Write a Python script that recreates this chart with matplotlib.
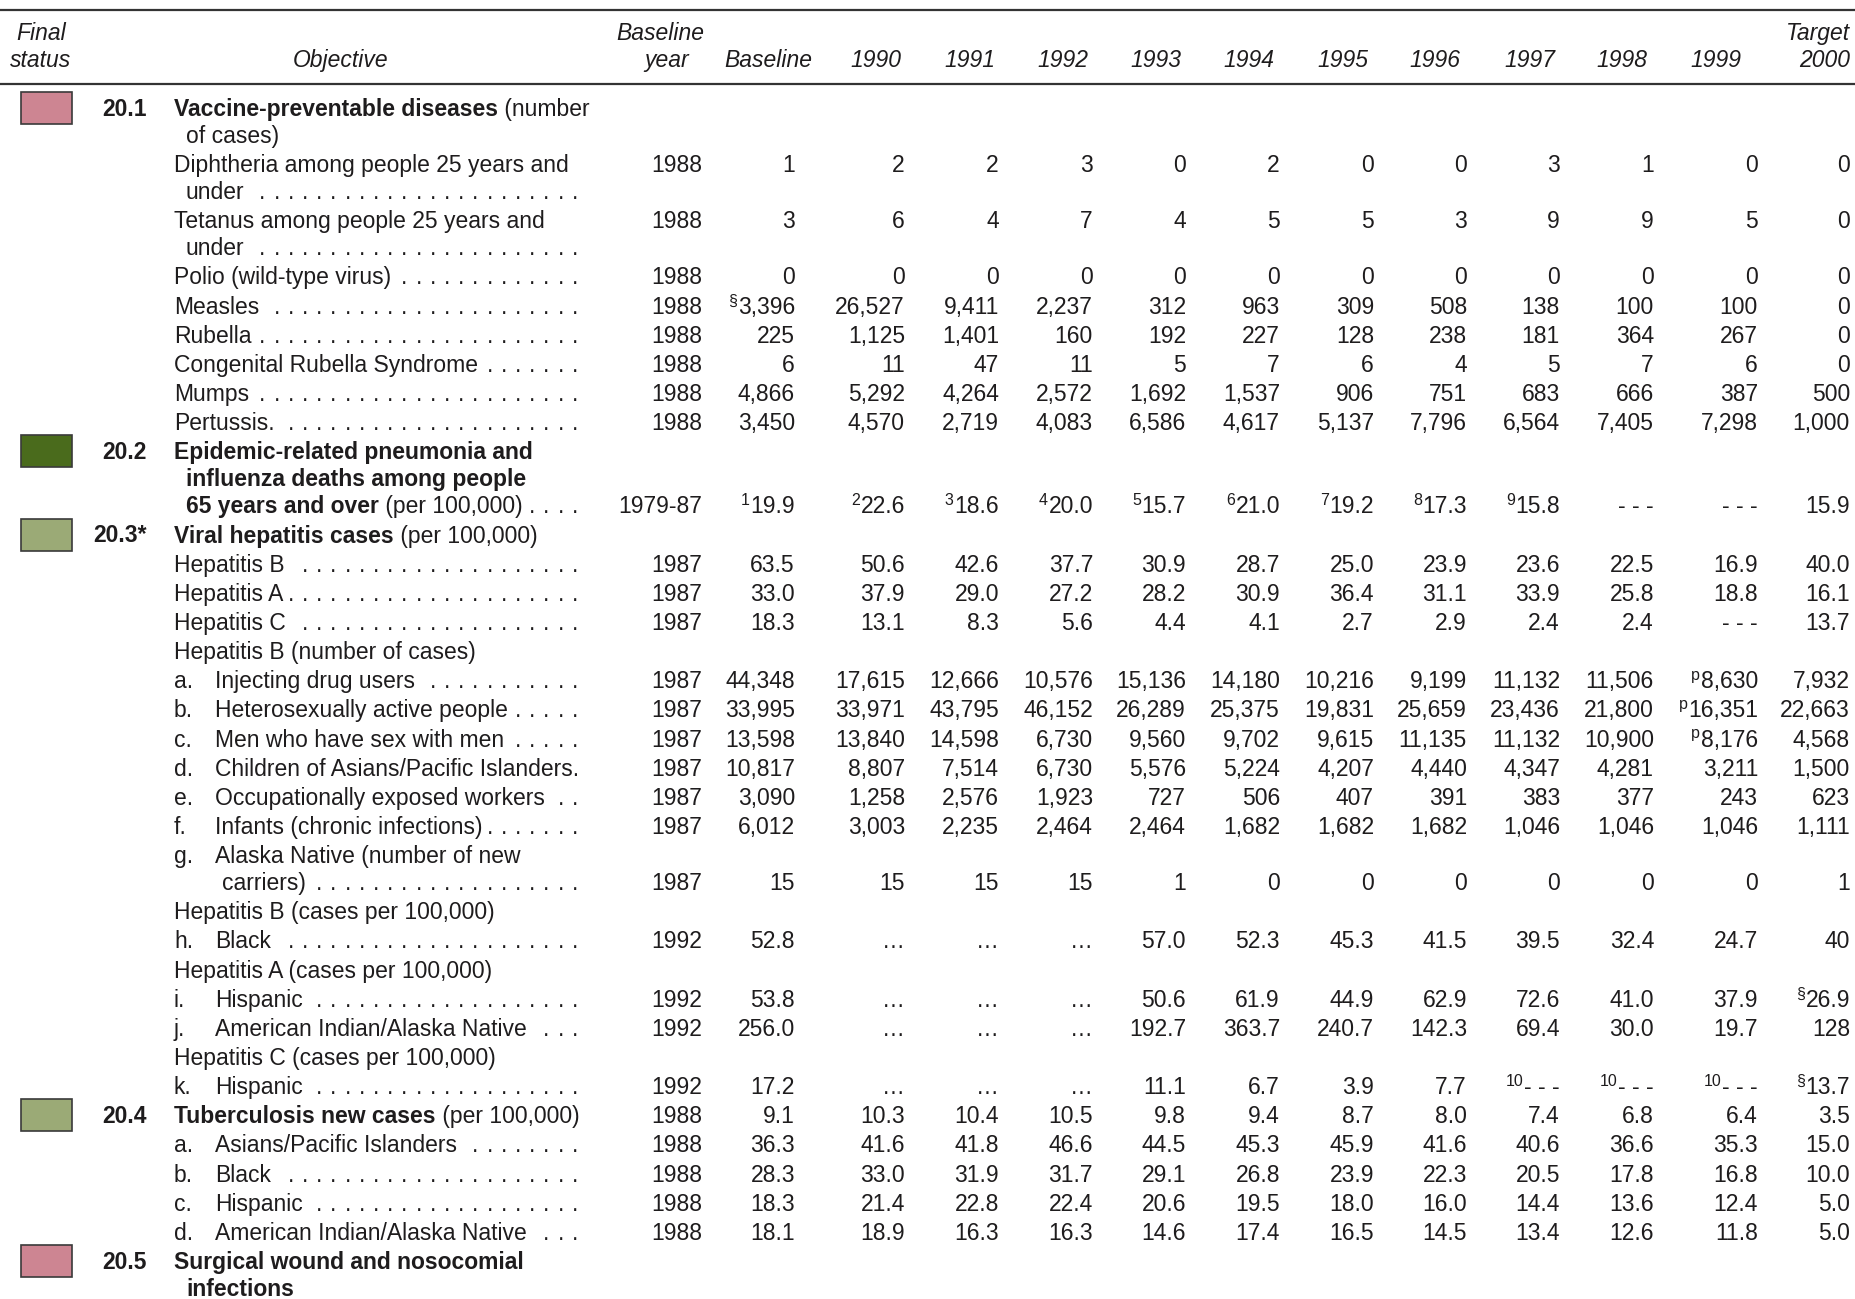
import matplotlib.pyplot as plt
from matplotlib.patches import Rectangle

plt.rcParams['font.family'] = ['Liberation Sans', 'DejaVu Sans']

# column headers
col_heads = ['Baseline', '1990', '1991', '1992', '1993', '1994', '1995',
             '1996', '1997', '1998', '1999', 'Target\n2000']

status_colors = {'not_met': '#CD8592', 'met': '#4A6B1C', 'progress': '#9BAA76'}

# values: baseline, 1990 ... 1999, target 2000   ("mark|value" = footnote mark)
diphtheria = ['1', '2', '2', '3', '0', '2', '0', '0', '3', '1', '0', '0']
tetanus = ['3', '6', '4', '7', '4', '5', '5', '3', '9', '9', '5', '0']
polio = ['0', '0', '0', '0', '0', '0', '0', '0', '0', '0', '0', '0']
measles = ['§|3,396', '26,527', '9,411', '2,237', '312', '963', '309', '508', '138', '100', '100', '0']
rubella = ['225', '1,125', '1,401', '160', '192', '227', '128', '238', '181', '364', '267', '0']
crs = ['6', '11', '47', '11', '5', '7', '6', '4', '5', '7', '6', '0']
mumps = ['4,866', '5,292', '4,264', '2,572', '1,692', '1,537', '906', '751', '683', '666', '387', '500']
pertussis = ['3,450', '4,570', '2,719', '4,083', '6,586', '4,617', '5,137', '7,796', '6,564', '7,405', '7,298', '1,000']
pneumonia = ['1|19.9', '2|22.6', '3|18.6', '4|20.0', '5|15.7', '6|21.0', '7|19.2', '8|17.3', '9|15.8', '- - -', '- - -', '15.9']
hep_b = ['63.5', '50.6', '42.6', '37.7', '30.9', '28.7', '25.0', '23.9', '23.6', '22.5', '16.9', '40.0']
hep_a = ['33.0', '37.9', '29.0', '27.2', '28.2', '30.9', '36.4', '31.1', '33.9', '25.8', '18.8', '16.1']
hep_c = ['18.3', '13.1', '8.3', '5.6', '4.4', '4.1', '2.7', '2.9', '2.4', '2.4', '- - -', '13.7']
hb_idu = ['44,348', '17,615', '12,666', '10,576', '15,136', '14,180', '10,216', '9,199', '11,132', '11,506', 'p|8,630', '7,932']
hb_hetero = ['33,995', '33,971', '43,795', '46,152', '26,289', '25,375', '19,831', '25,659', '23,436', '21,800', 'p|16,351', '22,663']
hb_msm = ['13,598', '13,840', '14,598', '6,730', '9,560', '9,702', '9,615', '11,135', '11,132', '10,900', 'p|8,176', '4,568']
hb_api_children = ['10,817', '8,807', '7,514', '6,730', '5,576', '5,224', '4,207', '4,440', '4,347', '4,281', '3,211', '1,500']
hb_occupational = ['3,090', '1,258', '2,576', '1,923', '727', '506', '407', '391', '383', '377', '243', '623']
hb_infants = ['6,012', '3,003', '2,235', '2,464', '2,464', '1,682', '1,682', '1,682', '1,046', '1,046', '1,046', '1,111']
hb_alaska = ['15', '15', '15', '15', '1', '0', '0', '0', '0', '0', '0', '1']
hb_black = ['52.8', '…', '…', '…', '57.0', '52.3', '45.3', '41.5', '39.5', '32.4', '24.7', '40']
ha_hispanic = ['53.8', '…', '…', '…', '50.6', '61.9', '44.9', '62.9', '72.6', '41.0', '37.9', '§|26.9']
ha_aian = ['256.0', '…', '…', '…', '192.7', '363.7', '240.7', '142.3', '69.4', '30.0', '19.7', '128']
hc_hispanic = ['17.2', '…', '…', '…', '11.1', '6.7', '3.9', '7.7', '10|- - -', '10|- - -', '10|- - -', '§|13.7']
tb_all = ['9.1', '10.3', '10.4', '10.5', '9.8', '9.4', '8.7', '8.0', '7.4', '6.8', '6.4', '3.5']
tb_api = ['36.3', '41.6', '41.8', '46.6', '44.5', '45.3', '45.9', '41.6', '40.6', '36.6', '35.3', '15.0']
tb_black = ['28.3', '33.0', '31.9', '31.7', '29.1', '26.8', '23.9', '22.3', '20.5', '17.8', '16.8', '10.0']
tb_hispanic = ['18.3', '21.4', '22.8', '22.4', '20.6', '19.5', '18.0', '16.0', '14.4', '13.6', '12.4', '5.0']
tb_aian = ['18.1', '18.9', '16.3', '16.3', '14.6', '17.4', '16.5', '14.5', '13.4', '12.6', '11.8', '5.0']

B, N = True, False
rows = [
    dict(status='not_met', num='20.1', lines=[[('Vaccine-preventable diseases', B), (' (number', N)], [('of cases)', N)]]),
    dict(lines=[[('Diphtheria among people 25 years and', N)], [('under', N)]], year='1988', vals=diphtheria, vline=0),
    dict(lines=[[('Tetanus among people 25 years and', N)], [('under', N)]], year='1988', vals=tetanus, vline=0),
    dict(lines=[[('Polio (wild-type virus)', N)]], year='1988', vals=polio),
    dict(lines=[[('Measles', N)]], year='1988', vals=measles),
    dict(lines=[[('Rubella', N)]], year='1988', vals=rubella),
    dict(lines=[[('Congenital Rubella Syndrome', N)]], year='1988', vals=crs),
    dict(lines=[[('Mumps', N)]], year='1988', vals=mumps),
    dict(lines=[[('Pertussis.', N)]], year='1988', vals=pertussis),
    dict(status='met', num='20.2', lines=[[('Epidemic-related pneumonia and', B)], [('influenza deaths among people', B)],
                                          [('65 years and over', B), (' (per 100,000)', N)]],
         year='1979-87', vals=pneumonia, vline=2),
    dict(status='progress', num='20.3*', lines=[[('Viral hepatitis cases', B), (' (per 100,000)', N)]]),
    dict(lines=[[('Hepatitis B', N)]], year='1987', vals=hep_b),
    dict(lines=[[('Hepatitis A', N)]], year='1987', vals=hep_a),
    dict(lines=[[('Hepatitis C', N)]], year='1987', vals=hep_c),
    dict(lines=[[('Hepatitis B (number of cases)', N)]]),
    dict(letter='a.', lines=[[('Injecting drug users', N)]], year='1987', vals=hb_idu),
    dict(letter='b.', lines=[[('Heterosexually active people', N)]], year='1987', vals=hb_hetero),
    dict(letter='c.', lines=[[('Men who have sex with men', N)]], year='1987', vals=hb_msm),
    dict(letter='d.', lines=[[('Children of Asians/Pacific Islanders.', N)]], year='1987', vals=hb_api_children),
    dict(letter='e.', lines=[[('Occupationally exposed workers', N)]], year='1987', vals=hb_occupational),
    dict(letter='f.', lines=[[('Infants (chronic infections)', N)]], year='1987', vals=hb_infants),
    dict(letter='g.', lines=[[('Alaska Native (number of new', N)], [('carriers)', N)]], year='1987', vals=hb_alaska, vline=1),
    dict(lines=[[('Hepatitis B (cases per 100,000)', N)]]),
    dict(letter='h.', lines=[[('Black', N)]], year='1992', vals=hb_black),
    dict(lines=[[('Hepatitis A (cases per 100,000)', N)]]),
    dict(letter='i.', lines=[[('Hispanic', N)]], year='1992', vals=ha_hispanic),
    dict(letter='j.', lines=[[('American Indian/Alaska Native', N)]], year='1992', vals=ha_aian),
    dict(lines=[[('Hepatitis C (cases per 100,000)', N)]]),
    dict(letter='k.', lines=[[('Hispanic', N)]], year='1992', vals=hc_hispanic),
    dict(status='progress', num='20.4', lines=[[('Tuberculosis new cases', B), (' (per 100,000)', N)]], year='1988', vals=tb_all),
    dict(letter='a.', lines=[[('Asians/Pacific Islanders', N)]], year='1988', vals=tb_api),
    dict(letter='b.', lines=[[('Black', N)]], year='1988', vals=tb_black),
    dict(letter='c.', lines=[[('Hispanic', N)]], year='1988', vals=tb_hispanic),
    dict(letter='d.', lines=[[('American Indian/Alaska Native', N)]], year='1988', vals=tb_aian),
    dict(status='not_met', num='20.5', lines=[[('Surgical wound and nosocomial', B)], [('infections', B)]]),
]

# layout (pixels)
W, H = 1856, 1299
fs = 16.5
ink = '#1E1C1D'
col_right = [795, 905, 999, 1093, 1186, 1280, 1374, 1467, 1560, 1654, 1758, 1850]
head_x = [768, 876, 970, 1063, 1156, 1249, 1343, 1435, 1530, 1622, 1716, 1850]
year_right = 702
dots_end = 578
dot_step = 14.2

fig = plt.figure(figsize=(W / 100, H / 100), dpi=100)
ax = fig.add_axes([0, 0, 1, 1])
ax.set_xlim(0, W)
ax.set_ylim(H, 0)
ax.axis('off')

ax.plot([0, W], [10, 10], color='#333333', lw=1.6, solid_capstyle='butt')
ax.plot([0, W], [84, 84], color='#333333', lw=1.6, solid_capstyle='butt')

hkw = dict(fontsize=fs, style='italic', color=ink, va='center')
ax.text(41, 33, 'Final', ha='center', **hkw)
ax.text(41, 60, 'status', ha='center', **hkw)
ax.text(341, 60, 'Objective', ha='center', **hkw)
ax.text(660, 33, 'Baseline', ha='center', **hkw)
ax.text(667, 60, 'year', ha='center', **hkw)
for hx, h in zip(head_x, col_heads):
    if '\n' in h:
        top, bot = h.split('\n')
        ax.text(hx, 33, top, ha='right', **hkw)
        ax.text(hx, 60, bot, ha='right', **hkw)
    else:
        ax.text(hx, 60, h, ha='center', **hkw)

def put_value(x, y, s):
    mark = None
    if '|' in s:
        mark, s = s.split('|')
    t = ax.text(x, y, s, ha='right', va='baseline', fontsize=fs, color=ink)
    if mark:
        ax.annotate(mark, xy=(0, 1), xycoords=t, xytext=(-0.5, 1.5), textcoords='offset points',
                    ha='right', va='top', fontsize=11.5, color=ink)

line_h, row_gap, base_off = 27, 29.15, 8
y = 108
leaders = []
for r in rows:
    n = len(r['lines'])
    ys = [y + i * line_h for i in range(n)]
    if r.get('status'):
        ax.add_patch(Rectangle((21, ys[0] - 16), 51, 32, facecolor=status_colors[r['status']],
                               edgecolor='#3A3A3A', lw=1.2))
        ax.text(147, ys[0] + base_off, r['num'], ha='right', va='baseline', fontsize=fs,
                fontweight='bold', color=ink)
    if r.get('letter'):
        ax.text(174, ys[0] + base_off, r['letter'], va='baseline', fontsize=fs, color=ink)
        x0, x1 = 215, 222
    else:
        x0, x1 = 174, 186
    last = None
    for i, segs in enumerate(r['lines']):
        prev = None
        for text, bold in segs:
            w = 'bold' if bold else 'normal'
            if prev is None:
                prev = ax.text(x0 if i == 0 else x1, ys[i] + base_off, text, va='baseline',
                               fontsize=fs, fontweight=w, color=ink)
            else:
                prev = ax.annotate(text, xy=(1, 0), xycoords=prev, ha='left', va='bottom',
                                   fontsize=fs, fontweight=w, color=ink)
        last = prev
    if 'vals' in r:
        vy = ys[r.get('vline', n - 1)] + base_off
        ax.text(year_right, vy, r['year'], ha='right', va='baseline', fontsize=fs, color=ink)
        for x, s in zip(col_right, r['vals']):
            put_value(x, vy, s)
        leaders.append((last, ys[-1] + base_off))
    y = ys[-1] + row_gap

fig.canvas.draw()
renderer = fig.canvas.get_renderer()
for t, by in leaders:
    end = t.get_window_extent(renderer).x1
    x = dots_end
    while x - 6 > end + 4:
        ax.text(x, by, '.', ha='right', va='baseline', fontsize=fs, color=ink)
        x -= dot_step

fig.savefig('out.png', dpi=100)
